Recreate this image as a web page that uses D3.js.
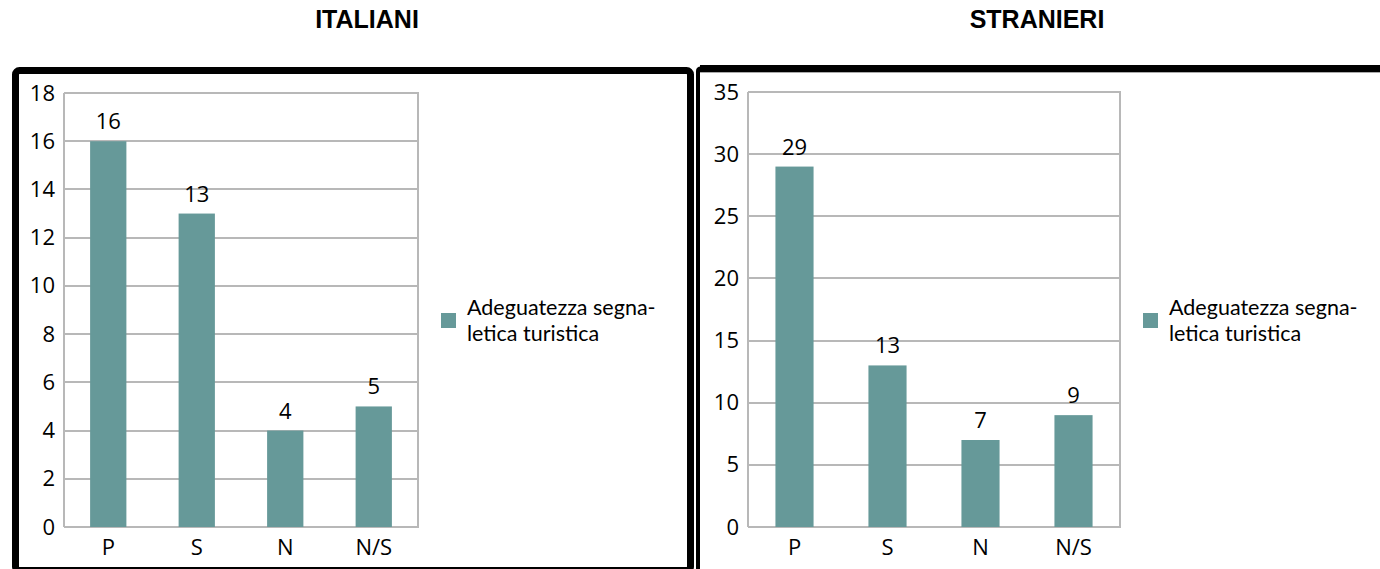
<!DOCTYPE html>
<html><head><meta charset="utf-8">
<script src="https://cdn.jsdelivr.net/npm/d3@7"></script>
<style>body{margin:0;background:#fff}svg{display:block}</style>
</head><body>
<svg id="c" width="1380" height="569"></svg>
<script>
const categories = ["P","S","N","N/S"];
const italianiValues = [16,13,4,5];
const stranieriValues = [29,13,7,9];
const italianiTicks = [0,2,4,6,8,10,12,14,16,18];
const stranieriTicks = [0,5,10,15,20,25,30,35];
const seriesName = ["Adeguatezza segna-","letica turistica"];
const titles = ["ITALIANI","STRANIERI"];

const svg = d3.select("#c");
const FONT = "'Open Sans', sans-serif";
const LEGFONT = "Lato, 'Open Sans', sans-serif";
const barColor = "#669999";
const gridColor = "#b8b8b8";

// panel borders
svg.append("rect").attr("x",15.5).attr("y",70.5).attr("width",675).attr("height",500)
  .attr("rx",4).attr("fill","none").attr("stroke","#000").attr("stroke-width",7);
svg.append("path").attr("d","M698,580 L698,71 Q698,68.5 701,68.5 L1390,68.5")
  .attr("fill","none").attr("stroke","#000").attr("stroke-width",4);
svg.append("rect").attr("x",700).attr("y",65).attr("width",690).attr("height",7).attr("fill","#000");
svg.append("line").attr("x1",700).attr("x2",1380).attr("y1",72.5).attr("y2",72.5).attr("stroke","#aaa").attr("stroke-width",1);

function panel(cfg){
  const {x0,x1,y0,y1,values,ticks,max,title,titleX,legX} = cfg;
  const g = svg.append("g");
  const x = d3.scaleBand().domain(categories).range([x0,x1]).paddingInner(0.59).paddingOuter(0.295);
  const y = d3.scaleLinear().domain([0,max]).range([y1,y0]);

  // gridlines
  g.selectAll(".grid").data(ticks).join("line")
    .attr("x1",x0).attr("x2",x1+1).attr("y1",d=>Math.round(y(d))).attr("y2",d=>Math.round(y(d)))
    .attr("stroke",gridColor).attr("stroke-width",2);
  g.append("line").attr("x1",x0).attr("x2",x0).attr("y1",y0).attr("y2",y1).attr("stroke",gridColor).attr("stroke-width",2);
  g.append("line").attr("x1",x1).attr("x2",x1).attr("y1",y0).attr("y2",y1).attr("stroke",gridColor).attr("stroke-width",2);

  // bars
  g.selectAll(".bar").data(values).join("rect")
    .attr("x",(d,i)=>x(categories[i])).attr("width",x.bandwidth())
    .attr("y",d=>y(d)).attr("height",d=>y(0)-y(d)).attr("fill",barColor);
  g.selectAll(".lab").data(values).join("text")
    .attr("x",(d,i)=>x(categories[i])+x.bandwidth()/2).attr("y",d=>y(d)-12)
    .attr("text-anchor","middle").attr("font-family",FONT).attr("font-size",22).attr("fill","#000").text(d=>d);

  // y axis labels
  const ya = d3.axisLeft(y).tickValues(ticks).tickSize(0).tickPadding(9);
  const yg = g.append("g").attr("transform",`translate(${x0},0)`).call(ya);
  yg.select(".domain").remove();
  yg.selectAll("text").attr("font-family",FONT).attr("font-size",22).attr("fill","#000");

  // x axis labels
  const xa = d3.axisBottom(x).tickSize(0).tickPadding(12);
  const xg = g.append("g").attr("transform",`translate(0,${y1})`).call(xa);
  xg.select(".domain").remove();
  xg.selectAll("text").attr("font-family",FONT).attr("font-size",22).attr("fill","#000");

  // title
  svg.append("text").attr("x",titleX).attr("y",28).attr("text-anchor","middle")
    .attr("font-family","'Liberation Sans', Arial, sans-serif").attr("font-weight","bold").attr("font-size",25).text(title);

  // legend
  svg.append("rect").attr("x",legX).attr("y",313).attr("width",15).attr("height",15).attr("fill",barColor);
  seriesName.forEach((s,i)=>svg.append("text").attr("x",legX+26).attr("y",315+i*26)
    .attr("font-family",LEGFONT).attr("font-size",21.5).attr("fill","#000").text(s));
}

panel({x0:64,x1:418,y0:93,y1:527,values:italianiValues,ticks:italianiTicks,max:18,title:titles[0],titleX:367,legX:441});
panel({x0:748,x1:1120,y0:92,y1:527,values:stranieriValues,ticks:stranieriTicks,max:35,title:titles[1],titleX:1037,legX:1143});
</script>
</body></html>
